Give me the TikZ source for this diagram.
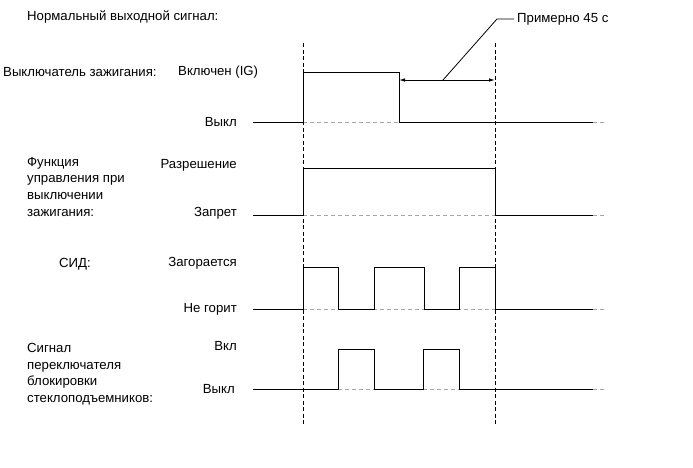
\documentclass[tikz,border=0pt]{standalone}
\usepackage{fontspec}
\setmainfont{Liberation Sans}
\usetikzlibrary{arrows.meta}
\begin{document}
\begin{tikzpicture}[x=1pt,y=-1pt,
  sig/.style={line width=1pt,black},
  ref/.style={line width=0.8pt,gray!70,dash pattern=on 4pt off 3pt},
  tail/.style={line width=0.8pt,gray!70,dash pattern=on 4pt off 3pt},
  marker/.style={line width=0.9pt,black,dash pattern=on 4pt off 2.5pt},
  lbl/.style={inner sep=0pt,font=\fontsize{13.2}{16.6}\selectfont},
  lft/.style={lbl,anchor=west},
  rgt/.style={lbl,anchor=east},
  multi/.style={lbl,anchor=north west,align=left}]
\useasboundingbox (0,0) rectangle (693,467);

% title
\node[lft] (title) at (27,17) {Нормальный выходной сигнал:};

% row labels
\node[lft] (ign) at (3,72) {Выключатель зажигания:};
\node[lft] (ignon) at (178,72) {Включен (IG)};
\node[rgt] (ignoff) at (237,122) {Выкл};

\node[multi] (func) at (27,157) {Функция\\управления при\\выключении\\зажигания:};
\node[rgt] (funcon) at (237,165) {Разрешение};
\node[rgt] (funcoff) at (237,213) {Запрет};

\node[lft] (led) at (59,264) {СИД:};
\node[rgt] (ledon) at (237,263) {Загорается};
\node[rgt] (ledoff) at (237,309) {Не горит};

\node[multi] (win) at (27,343) {Сигнал\\переключателя\\блокировки\\стеклоподъемников:};
\node[rgt] (winon) at (237,346) {Вкл};
\node[rgt] (winoff) at (235,389) {Выкл};

% vertical time markers
\coordinate (m1t) at (303,43);
\coordinate (m1b) at (303,425);
\coordinate (m2t) at (495,43);
\coordinate (m2b) at (495,425);
\draw[marker] (m1t) -- (m1b);
\draw[marker] (m2t) -- (m2b);

% ignition switch
\draw[ref] (303,122) -- (399,122);
\draw[sig] (253,122) -- (303,122) -- (303,72) -- (399,72) -- (399,122) -- (593,122);
\draw[tail] (593,122) -- (607,122);

% 45 s dimension
\coordinate (a1) at (399,80);
\coordinate (a2) at (495,80);
\draw[line width=0.9pt,{Latex[length=6pt,width=3.5pt]}-{Latex[length=6pt,width=3.5pt]}] (a1) -- (a2);
\node[lft] (dur) at (517,19) {Примерно 45 с};
\coordinate (ld) at (443,80);
\coordinate (lk) at (497,19);
\draw[line width=0.8pt] (ld) -- (lk) -- ([xshift=-3pt]dur.west);

% function row
\draw[ref] (303,215) -- (495,215);
\draw[sig] (253,215) -- (303,215) -- (303,168) -- (495,168) -- (495,215) -- (593,215);
\draw[tail] (593,215) -- (607,215);

% LED row
\draw[ref] (303,309) -- (495,309);
\draw[sig] (253,309) -- (303,309) -- (303,267) -- (338,267) -- (338,309) -- (374,309) -- (374,267) -- (424,267) -- (424,309) -- (459,309) -- (459,267) -- (495,267) -- (495,309) -- (593,309);
\draw[tail] (593,309) -- (607,309);

% window lock row
\draw[ref] (338,389) -- (374,389);
\draw[ref] (423,389) -- (459,389);
\draw[sig] (253,389) -- (338,389) -- (338,349) -- (374,349) -- (374,389) -- (423,389) -- (423,349) -- (459,349) -- (459,389) -- (593,389);
\draw[tail] (593,389) -- (607,389);
\end{tikzpicture}
\end{document}
